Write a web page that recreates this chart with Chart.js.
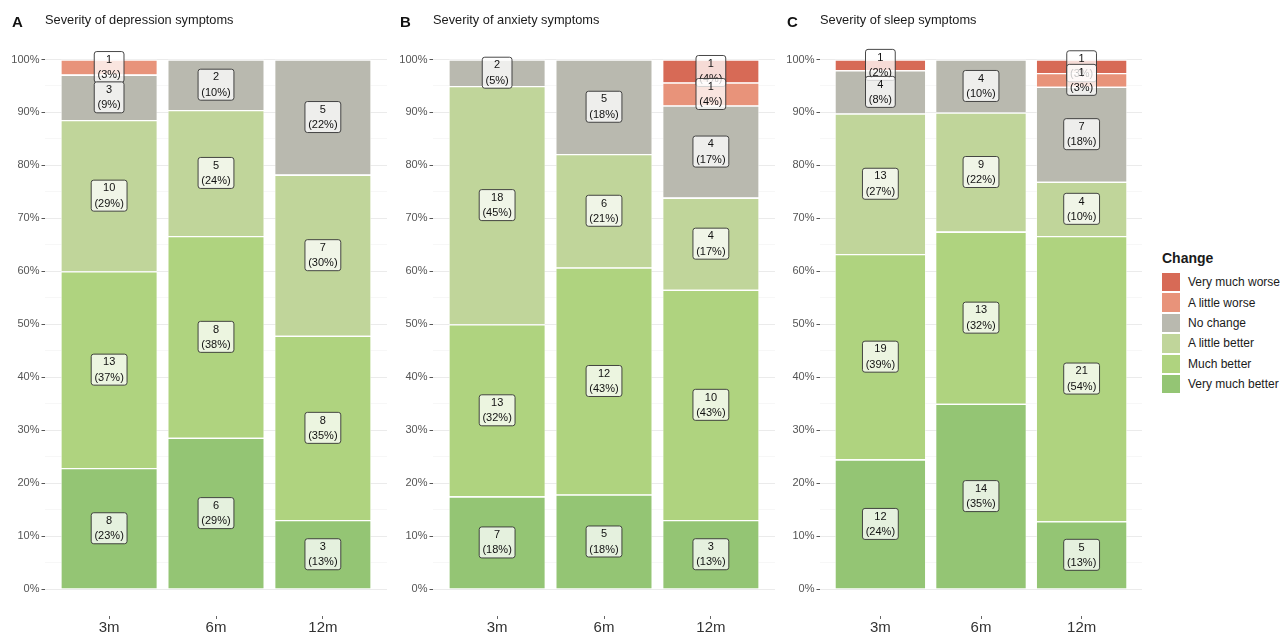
<!DOCTYPE html>
<html>
<head>
<meta charset="utf-8">
<script src="https://cdn.jsdelivr.net/npm/chart.js@4.4.1/dist/chart.umd.min.js"></script>
<style>
  html, body { margin: 0; padding: 0; background: #fff; width: 1286px; height: 635px; overflow: hidden;
    font-family: "Liberation Sans", Arial, Helvetica, sans-serif; }
  .panel { position: absolute; top: 0; }
  #legend { position: absolute; left: 1162px; top: 250px; color: #1a1a1a; }
  #legend .ttl { font-weight: bold; font-size: 14px; height: 22px; line-height: 16px; }
  #legend .row { display: flex; align-items: center; height: 20.4px; }
  #legend .sw { width: 18px; height: 18.5px; margin-right: 8px; }
  #legend .lab { font-size: 12px; color: #1a1a1a; }
</style>
</head>
<body>
<canvas id="panelA" class="panel" style="left:0px" width="387" height="635"></canvas>
<canvas id="panelB" class="panel" style="left:388px" width="387" height="635"></canvas>
<canvas id="panelC" class="panel" style="left:775px" width="367" height="635"></canvas>
<div id="legend"></div>

<script>
// Follow-up time points
const timepoints = ['3m', '6m', '12m'];

// Response levels, listed from the bottom of each stack to the top
const changeLevels = ['Very much better', 'Much better', 'A little better', 'No change', 'A little worse', 'Very much worse'];
const levelColors = ['#94c574', '#afd37f', '#c0d59a', '#b9b9af', '#e8937a', '#d76a56'];

// Participant counts per level (same order as changeLevels)
const depression3m  = [8, 13, 10, 3, 1, 0];
const depression6m  = [6, 8, 5, 2, 0, 0];
const depression12m = [3, 8, 7, 5, 0, 0];

const anxiety3m  = [7, 13, 18, 2, 0, 0];
const anxiety6m  = [5, 12, 6, 5, 0, 0];
const anxiety12m = [3, 10, 4, 4, 1, 1];

const sleep3m  = [12, 19, 13, 4, 0, 1];
const sleep6m  = [14, 13, 9, 4, 0, 0];
const sleep12m = [5, 21, 4, 7, 1, 1];

const yTickValues = [0, 10, 20, 30, 40, 50, 60, 70, 80, 90, 100];

const FONT = '"Liberation Sans", Arial, Helvetica, sans-serif';

// Round half to even, as R does for the percentage labels
function roundHalfEven(v) {
  const f = Math.floor(v);
  const d = v - f;
  if (Math.abs(d - 0.5) < 1e-9) return (f % 2 === 0) ? f : f + 1;
  return Math.round(v);
}

function buildDatasets(columns) {
  const totals = columns.map(c => c.reduce((a, b) => a + b, 0));
  return changeLevels.map((level, i) => ({
    label: level,
    backgroundColor: levelColors[i],
    borderColor: '#ffffff',
    borderWidth: { top: 1.3, left: 0.6, right: 0.6, bottom: 0 },
    borderSkipped: 'start',
    inflateAmount: 0,
    counts: columns.map(c => c[i]),
    data: columns.map((c, j) => ({ x: j + 1, y: c[i] * 100 / totals[j] }))
  }));
}

// Tag letter and panel title above the plotting area
const titlePlugin = {
  id: 'panelTitle',
  afterDraw(chart, args, opts) {
    const ctx = chart.ctx;
    const left = chart.chartArea.left;
    ctx.save();
    ctx.fillStyle = '#111';
    ctx.textBaseline = 'alphabetic';
    ctx.textAlign = 'left';
    ctx.font = 'bold 15px ' + FONT;
    ctx.fillText(opts.tag, left - 33, 26.5);
    ctx.font = '12.8px ' + FONT;
    ctx.fillStyle = '#1a1a1a';
    ctx.fillText(opts.text, left, 24);
    ctx.restore();
  }
};

// Count / percentage boxes centred on each segment
const boxLabelPlugin = {
  id: 'boxLabels',
  afterDatasetsDraw(chart) {
    const ctx = chart.ctx;
    const n = chart.data.datasets.length;
    ctx.save();
    ctx.font = '11px ' + FONT;
    ctx.textAlign = 'center';
    ctx.textBaseline = 'middle';
    for (let j = 0; j < timepoints.length; j++) {
      for (let i = n - 1; i >= 0; i--) {
        const ds = chart.data.datasets[i];
        const count = ds.counts[j];
        if (!count) continue;
        const el = chart.getDatasetMeta(i).data[j];
        const cx = el.x;
        const cy = (el.y + el.base) / 2;
        const pct = roundHalfEven(ds.data[j].y);
        const l1 = String(count);
        const l2 = '(' + pct + '%)';
        const w = Math.max(ctx.measureText(l1).width, ctx.measureText(l2).width) + 6.5;
        const h = 31;
        const x0 = cx - w / 2, y0 = cy - h / 2;
        ctx.beginPath();
        ctx.roundRect(x0, y0, w, h, 2.5);
        ctx.fillStyle = 'rgba(255,255,255,0.76)';
        ctx.fill();
        ctx.lineWidth = 0.9;
        ctx.strokeStyle = '#333';
        ctx.stroke();
        ctx.fillStyle = '#111';
        ctx.fillText(l1, cx, cy - 7.3);
        ctx.fillText(l2, cx, cy + 8);
      }
    }
    ctx.restore();
  }
};

function makePanel(canvasId, tag, title, columns) {
  new Chart(document.getElementById(canvasId), {
    type: 'bar',
    data: { datasets: buildDatasets(columns) },
    plugins: [titlePlugin, boxLabelPlugin],
    options: {
      responsive: false,
      animation: false,
      devicePixelRatio: 1,
      layout: { padding: { top: 33, left: 0, right: 0, bottom: 0 } },
      datasets: { bar: { categoryPercentage: 1, barPercentage: 0.9 } },
      plugins: {
        legend: { display: false },
        tooltip: { enabled: false },
        panelTitle: { tag: tag, text: title }
      },
      scales: {
        x: {
          type: 'linear',
          min: 0.4,
          max: 3.6,
          stacked: true,
          offset: false,
          afterBuildTicks(scale) { scale.ticks = timepoints.map((t, k) => ({ value: k + 1 })); },
          afterFit(scale) { scale.height = 19.5; },
          border: { display: false },
          grid: { offset: false, drawOnChartArea: false, drawTicks: true, tickLength: 3.5, tickColor: '#666', tickWidth: 1 },
          ticks: {
            autoSkip: false,
            maxRotation: 0,
            padding: 0,
            color: '#333',
            font: { family: FONT, size: 15 },
            callback: v => timepoints[Math.round(v) - 1]
          }
        },
        y: {
          type: 'linear',
          min: -5,
          max: 105,
          stacked: true,
          afterBuildTicks(scale) {
            const t = [];
            for (let v = 5; v <= 95; v += 10) t.push(v);
            scale.ticks = yTickValues.concat(t).sort((a, b) => a - b).map(v => ({ value: v }));
          },
          afterFit(scale) { scale.width = 45; },
          border: { display: false },
          grid: {
            drawTicks: true,
            tickLength: 3.5,
            color: c => (c.tick && c.tick.value % 10 === 0) ? '#ebebeb' : '#f5f5f5',
            lineWidth: c => (c.tick && c.tick.value % 10 === 0) ? 1 : 0.8,
            tickColor: c => (c.tick && c.tick.value % 10 === 0) ? '#555' : 'rgba(0,0,0,0)'
          },
          ticks: {
            autoSkip: false,
            padding: 2,
            color: '#555',
            font: { family: FONT, size: 11 },
            callback: v => (yTickValues.includes(v) ? v + '%' : '')
          }
        }
      }
    }
  });
}

makePanel('panelA', 'A', 'Severity of depression symptoms', [depression3m, depression6m, depression12m]);
makePanel('panelB', 'B', 'Severity of anxiety symptoms', [anxiety3m, anxiety6m, anxiety12m]);
makePanel('panelC', 'C', 'Severity of sleep symptoms', [sleep3m, sleep6m, sleep12m]);

// Legend, top entry is the worst outcome
const legend = document.getElementById('legend');
const ttl = document.createElement('div');
ttl.className = 'ttl';
ttl.textContent = 'Change';
legend.appendChild(ttl);
for (let i = changeLevels.length - 1; i >= 0; i--) {
  const row = document.createElement('div');
  row.className = 'row';
  const sw = document.createElement('div');
  sw.className = 'sw';
  sw.style.background = levelColors[i];
  const lab = document.createElement('span');
  lab.className = 'lab';
  lab.textContent = changeLevels[i];
  row.appendChild(sw);
  row.appendChild(lab);
  legend.appendChild(row);
}
</script>
</body>
</html>
